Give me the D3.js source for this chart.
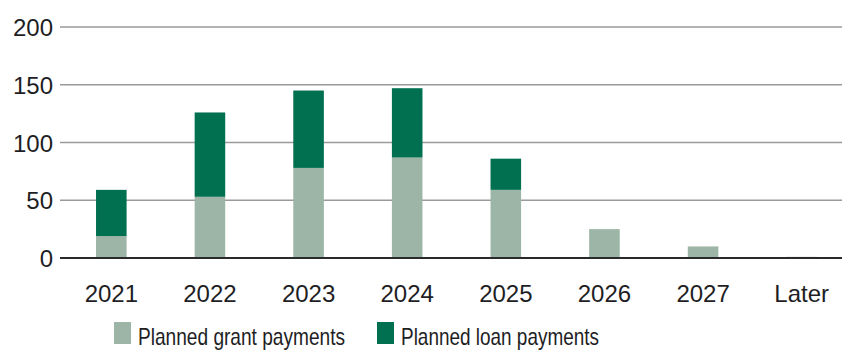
<!DOCTYPE html>
<html>
<head>
<meta charset="utf-8">
<script src="https://cdn.jsdelivr.net/npm/d3@7"></script>
<style>
  html, body { margin: 0; padding: 0; background: #fff; }
  svg { display: block; }
  text { font-family: "Liberation Sans", Arial, sans-serif; fill: #1e1e24; }
</style>
</head>
<body>
<svg id="chart" width="842" height="350"></svg>
<script>
// Payment schedule, by year
const categories = ["2021", "2022", "2023", "2024", "2025", "2026", "2027", "Later"];
const grantPayments = [19, 53, 78, 87, 59, 25, 10, 1];
const loanPayments  = [40, 73, 67, 60, 27, 0, 0, 0];
const yTicks = [0, 50, 100, 150, 200];
const seriesNames = ["Planned grant payments", "Planned loan payments"];
const seriesColors = ["#9cb5a6", "#007050"];

const svg = d3.select("#chart");
const W = 842;
const labelFont = "'Liberation Sans', Arial, sans-serif";

const x = d3.scaleBand()
  .domain(categories)
  .range([62, 851])
  .paddingInner(0.69)
  .paddingOuter(0.345);

const y = d3.scaleLinear()
  .domain([0, 200])
  .range([258, 27]);

const rows = categories.map((c, i) => ({ cat: c, grant: grantPayments[i], loan: loanPayments[i] }));
const stacked = d3.stack().keys(["grant", "loan"])(rows);

// Horizontal gridlines
svg.append("g")
  .selectAll("line")
  .data(yTicks.filter(t => t !== 0))
  .join("line")
  .attr("x1", 60).attr("x2", W)
  .attr("y1", d => y(d)).attr("y2", d => y(d))
  .attr("stroke", "#9a9a9a")
  .attr("stroke-width", 1.5);

// Stacked bars
svg.append("g")
  .selectAll("g")
  .data(stacked)
  .join("g")
  .attr("fill", (d, i) => seriesColors[i])
  .selectAll("rect")
  .data(d => d.filter(s => s[1] - s[0] > 0))
  .join("rect")
  .attr("x", d => x(d.data.cat))
  .attr("width", x.bandwidth())
  .attr("y", d => y(d[1]))
  .attr("height", d => y(d[0]) - y(d[1]));

// Baseline
svg.append("line")
  .attr("x1", 60).attr("x2", W)
  .attr("y1", y(0)).attr("y2", y(0))
  .attr("stroke", "#2a2a2a")
  .attr("stroke-width", 1.8);

// Y axis labels
const yAxis = d3.axisLeft(y).tickValues(yTicks).tickSize(0).tickPadding(0);
const gy = svg.append("g").attr("transform", "translate(53,0)").call(yAxis);
gy.select(".domain").remove();
gy.selectAll("text")
  .attr("font-size", 24)
  .attr("dy", "0.36em")
  .style("font-family", labelFont)
  .attr("fill", "#1e1e24");

// X axis labels
const xAxis = d3.axisBottom(x).tickSize(0).tickPadding(0);
const gx = svg.append("g").attr("transform", "translate(0,302)").call(xAxis);
gx.select(".domain").remove();
gx.selectAll("text")
  .attr("font-size", 24)
  .attr("dy", 0)
  .attr("y", 0)
  .style("font-family", labelFont)
  .attr("fill", "#1e1e24");

// Legend (condensed labels)
const legendX = [114, 377];
const legendTextWidth = [207, 198];
const legend = svg.append("g")
  .selectAll("g")
  .data(seriesNames)
  .join("g")
  .attr("transform", (d, i) => `translate(${legendX[i]},322)`);
legend.append("rect")
  .attr("width", 17).attr("height", 22)
  .attr("fill", (d, i) => seriesColors[i]);
legend.append("text")
  .attr("x", 24).attr("y", 22.5)
  .attr("font-size", 24)
  .attr("textLength", (d, i) => legendTextWidth[i])
  .attr("lengthAdjust", "spacingAndGlyphs")
  .text(d => d);
</script>
</body>
</html>
